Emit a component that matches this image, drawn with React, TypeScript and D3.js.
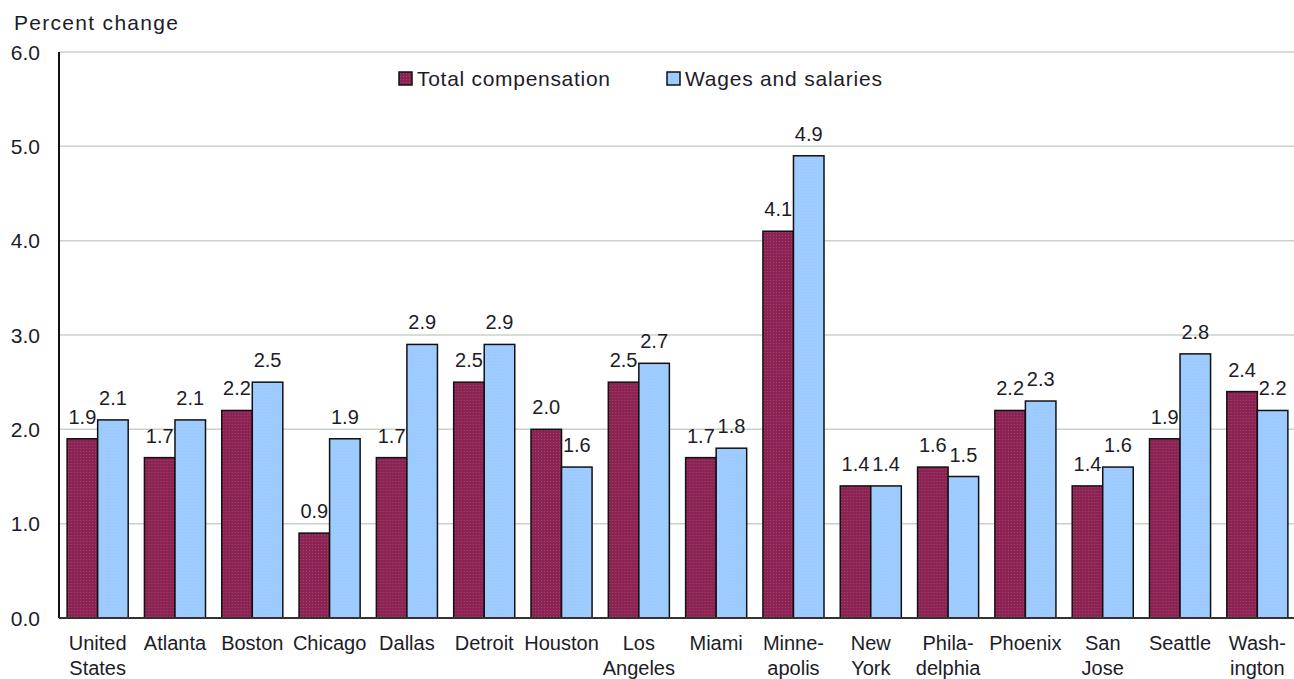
import React, { useEffect, useRef } from "react";
import * as d3 from "d3";

const cities = [
  "United States", "Atlanta", "Boston", "Chicago", "Dallas", "Detroit", "Houston", "Los Angeles",
  "Miami", "Minneapolis", "New York", "Philadelphia", "Phoenix", "San Jose", "Seattle", "Washington",
];
// how each name is broken onto two lines under the axis
const cityLines = [
  ["United", "States"], ["Atlanta"], ["Boston"], ["Chicago"], ["Dallas"], ["Detroit"], ["Houston"],
  ["Los", "Angeles"], ["Miami"], ["Minne-", "apolis"], ["New", "York"], ["Phila-", "delphia"],
  ["Phoenix"], ["San", "Jose"], ["Seattle"], ["Wash-", "ington"],
];
const totalComp = [1.9, 1.7, 2.2, 0.9, 1.7, 2.5, 2.0, 2.5, 1.7, 4.1, 1.4, 1.6, 2.2, 1.4, 1.9, 2.4];
const wages = [2.1, 2.1, 2.5, 1.9, 2.9, 2.9, 1.6, 2.7, 1.8, 4.9, 1.4, 1.5, 2.3, 1.6, 2.8, 2.2];
const seriesNames = ["Total compensation", "Wages and salaries"];
const yTicks = [0, 1, 2, 3, 4, 5, 6];

const drawChart = (node: SVGSVGElement) => {
  var width = 1294;
  var height = 679;
  var margin = { top: 52, right: -2, bottom: 61, left: 59 };
  var font = "'Liberation Sans', Arial, sans-serif";
  var textColor = "#1c1c28";

  var svg = d3.select(node);
  svg.selectAll("*").remove();

  var defs = svg.append("defs");
  // dotted fills, like the original gif
  var patRed = defs
    .append("pattern")
    .attr("id", "dotsRed")
    .attr("width", 3)
    .attr("height", 3)
    .attr("patternUnits", "userSpaceOnUse");
  patRed.append("rect").attr("width", 3).attr("height", 3).attr("fill", "#8c2354");
  patRed.append("rect").attr("x", 1).attr("y", 1).attr("width", 1).attr("height", 1).attr("fill", "#9a4a62");

  var patBlue = defs
    .append("pattern")
    .attr("id", "dotsBlue")
    .attr("width", 3)
    .attr("height", 3)
    .attr("patternUnits", "userSpaceOnUse");
  patBlue.append("rect").attr("width", 3).attr("height", 3).attr("fill", "#9ccdff");
  patBlue.append("rect").attr("x", 1).attr("y", 1).attr("width", 1).attr("height", 1).attr("fill", "#b2b8ff");

  var fills = ["url(#dotsRed)", "url(#dotsBlue)"];
  var series = [totalComp, wages];

  var x0 = d3
    .scaleBand()
    .domain(cities)
    .range([margin.left, width - margin.right])
    .paddingInner(0.21)
    .paddingOuter(0.105);
  var x1 = d3.scaleBand().domain(["0", "1"]).range([0, x0.bandwidth()]);
  var y = d3
    .scaleLinear()
    .domain([0, 6])
    .range([height - margin.bottom, margin.top]);

  // gridlines
  svg
    .append("g")
    .selectAll("line")
    .data(yTicks.slice(1))
    .enter()
    .append("line")
    .attr("x1", margin.left)
    .attr("x2", width)
    .attr("y1", (d) => y(d))
    .attr("y2", (d) => y(d))
    .attr("stroke", "#c9d2c9")
    .attr("stroke-width", 1.5);

  // y tick labels
  svg
    .append("g")
    .selectAll("text")
    .data(yTicks)
    .enter()
    .append("text")
    .attr("x", 40)
    .attr("y", (d) => y(d))
    .attr("dy", "0.36em")
    .attr("text-anchor", "end")
    .attr("font-family", font)
    .attr("font-size", 21)
    .attr("fill", textColor)
    .text((d) => d.toFixed(1));

  svg
    .append("text")
    .attr("x", 14)
    .attr("y", 30)
    .attr("font-family", font)
    .attr("font-size", 21)
    .attr("textLength", 164)
    .attr("fill", textColor)
    .text("Percent change");

  // bars
  var groups = svg
    .append("g")
    .selectAll("g")
    .data(cities)
    .enter()
    .append("g")
    .attr("transform", (d) => "translate(" + x0(d) + ",0)");

  groups
    .selectAll("rect")
    .data((d, i) => series.map((s, k) => ({ k: k, v: s[i] })))
    .enter()
    .append("rect")
    .attr("x", (d) => x1(String(d.k)))
    .attr("y", (d) => y(d.v))
    .attr("width", x1.bandwidth())
    .attr("height", (d) => y(0) - y(d.v))
    .attr("fill", (d) => fills[d.k])
    .attr("stroke", "#111")
    .attr("stroke-width", 1.5);

  groups
    .selectAll("text")
    .data((d, i) => series.map((s, k) => ({ k: k, v: s[i] })))
    .enter()
    .append("text")
    .attr("x", (d) => x1(String(d.k)) + x1.bandwidth() / 2)
    .attr("y", (d) => y(d.v) - 15)
    .attr("text-anchor", "middle")
    .attr("font-family", font)
    .attr("font-size", 20)
    .attr("fill", textColor)
    .text((d) => d.v.toFixed(1));

  // axes lines
  svg
    .append("line")
    .attr("x1", margin.left)
    .attr("x2", margin.left)
    .attr("y1", y(6))
    .attr("y2", y(0))
    .attr("stroke", "#111")
    .attr("stroke-width", 2);
  svg
    .append("line")
    .attr("x1", margin.left)
    .attr("x2", width)
    .attr("y1", y(0))
    .attr("y2", y(0))
    .attr("stroke", "#333")
    .attr("stroke-width", 2);

  // category labels
  var labels = svg
    .append("g")
    .selectAll("text")
    .data(cities)
    .enter()
    .append("text")
    .attr("x", (d) => x0(d) + x0.bandwidth() / 2)
    .attr("y", y(0) + 32)
    .attr("text-anchor", "middle")
    .attr("font-family", font)
    .attr("font-size", 20)
    .attr("fill", textColor);
  labels
    .selectAll("tspan")
    .data((d, i) => cityLines[i])
    .enter()
    .append("tspan")
    .attr("x", function () {
      return d3.select(this.parentNode).attr("x");
    })
    .attr("dy", (d, i) => (i === 0 ? 0 : 25))
    .text((d) => d);

  // legend
  var legendX = [399, 667];
  var legendW = [193, 197];
  var legend = svg
    .append("g")
    .selectAll("g")
    .data(seriesNames)
    .enter()
    .append("g")
    .attr("transform", (d, i) => "translate(" + legendX[i] + ",72)");
  legend
    .append("rect")
    .attr("width", 13)
    .attr("height", 13)
    .attr("fill", (d, i) => fills[i])
    .attr("stroke", "#111")
    .attr("stroke-width", 1.5);
  legend
    .append("text")
    .attr("x", 18)
    .attr("y", 14)
    .attr("font-family", font)
    .attr("font-size", 21)
    .attr("textLength", (d, i) => legendW[i])
    .attr("fill", textColor)
    .text((d) => d);
};

const App = () => {
  const ref = useRef<SVGSVGElement>(null);
  useEffect(() => {
    if (ref.current) drawChart(ref.current);
  });
  return (
    <svg
      ref={ref}
      width={1294}
      height={679}
      style={{ position: "absolute", left: 0, top: 0, background: "#fff" }}
    ></svg>
  );
};

export default App;
